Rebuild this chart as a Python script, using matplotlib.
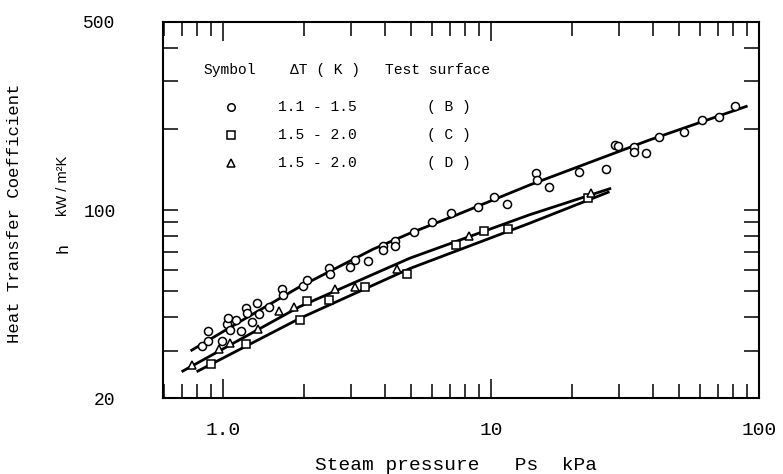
import numpy as np
import matplotlib
matplotlib.use("Agg")
import matplotlib.pyplot as plt
from matplotlib.ticker import FixedLocator, FixedFormatter, LogLocator, NullFormatter

plt.rcParams['font.family'] = ['Liberation Mono', 'DejaVu Sans Mono', 'DejaVu Sans']

# --- data (Ps in kPa, h in kW/m2K) ---
# surface B, circles
b_ps = [0.835, 0.875, 0.875, 0.991, 1.035, 1.044, 1.059, 1.112, 1.161, 1.212,
        1.222, 1.276, 1.343, 1.362, 1.480, 1.651, 1.665, 1.986, 2.063, 2.483,
        2.497, 2.984, 3.095, 3.469, 3.946, 3.946, 4.363, 4.363, 5.134, 6.006,
        7.054, 8.946, 10.24, 11.45, 14.72, 14.84, 16.38, 21.21, 26.82, 28.93,
        29.63, 33.99, 33.99, 37.90, 42.26, 52.51, 60.85, 70.47, 81.33]
b_h = [31.3, 32.7, 35.6, 32.7, 37.7, 39.8, 35.9, 39.0, 35.6, 43.2,
       41.6, 38.5, 45.3, 41.1, 43.5, 50.9, 48.4, 52.4, 55.0, 60.8,
       57.9, 61.6, 65.2, 64.8, 73.7, 71.0, 76.9, 73.5, 82.7, 90.1,
       97.2, 102.3, 112.2, 105.2, 136.8, 128.9, 121.4, 138.9, 141.6, 174.1,
       172.9, 171.4, 164.6, 162.8, 186.2, 195.2, 215.3, 222.1, 242.7]

# surface C, squares
c_ps = [0.898, 1.215, 1.931, 2.063, 2.476, 3.373, 4.836, 7.406, 9.36, 11.53, 22.95]
c_h = [26.7, 31.8, 39.0, 46.0, 46.4, 51.9, 57.9, 74.1, 83.8, 84.8, 110.5]

# surface D, triangles
d_ps = [0.768, 0.964, 1.062, 1.350, 1.613, 1.842, 2.614, 3.095, 4.449, 8.28, 23.64]
d_h = [26.5, 30.4, 32.1, 36.2, 42.3, 43.8, 50.8, 51.8, 60.6, 79.9, 115.6]

# fitted curves as drawn
b_fit_ps = [0.756, 1.154, 1.931, 3.62, 4.962, 7.41, 13.89, 38.89, 90.36]
b_fit_h = [30.0, 38.5, 51.9, 71.5, 81.9, 95.8, 123.8, 181.9, 243.3]
c_fit_ps = [0.796, 1.931, 4.962, 13.89, 27.6]
c_fit_h = [25.1, 39.6, 60.6, 89.3, 116.9]
d_fit_ps = [0.700, 1.931, 4.962, 13.89, 28.0]
d_fit_h = [25.1, 43.8, 66.2, 96.0, 120.4]

x_major = [1, 10, 100]
x_major_labels = ["1.0", "10", "100"]
y_major = [20, 100, 500]
y_major_labels = ["20", "100", "500"]

legend_rows = [("o", "1.1 - 1.5", "( B )"),
               ("s", "1.5 - 2.0", "( C )"),
               ("^", "1.5 - 2.0", "( D )")]

fig = plt.figure(figsize=(7.83, 4.74), dpi=100)
ax = fig.add_axes([0.2078, 0.1597, 0.762, 0.7945])
ax.set_xscale('log')
ax.set_yscale('log')
ax.set_xlim(0.595, 100)
ax.set_ylim(20, 500)

# fit lines
for xs, ys in [(b_fit_ps, b_fit_h), (c_fit_ps, c_fit_h), (d_fit_ps, d_fit_h)]:
    ax.plot(xs, ys, color='black', lw=2.0, solid_capstyle='butt',
            solid_joinstyle='round', zorder=2)

mk = dict(linestyle='none', mfc='white', mec='black', mew=1.1, zorder=3)
ax.plot(b_ps, b_h, marker='o', ms=5.8, **mk)
ax.plot(c_ps, c_h, marker='s', ms=5.4, **mk)
ax.plot(d_ps, d_h, marker='^', ms=6.0, **mk)

# ticks
ax.xaxis.set_major_locator(FixedLocator(x_major))
ax.xaxis.set_major_formatter(FixedFormatter(x_major_labels))
ax.xaxis.set_minor_locator(LogLocator(base=10, subs=np.arange(2, 10)))
ax.xaxis.set_minor_formatter(NullFormatter())
ax.yaxis.set_major_locator(FixedLocator(y_major))
ax.yaxis.set_major_formatter(FixedFormatter(y_major_labels))
ax.yaxis.set_minor_locator(LogLocator(base=10, subs=np.arange(2, 10)))
ax.yaxis.set_minor_formatter(NullFormatter())

ax.tick_params(which='both', direction='in', top=True, right=True, width=1.1)
ax.tick_params(axis='x', which='major', length=14, pad=17, labelsize=14)
ax.tick_params(axis='x', which='minor', length=10)
ax.tick_params(axis='y', which='both', length=11, pad=34, labelsize=13)
for sp in ax.spines.values():
    sp.set_linewidth(1.5)

# legend block drawn as text inside the axes
hdr_y = 0.872
ax.text(0.0675, hdr_y, "Symbol", transform=ax.transAxes, fontsize=10.5, va='center')
ax.text(0.2134, hdr_y, "\u0394T ( K )", transform=ax.transAxes, fontsize=10.5, va='center')
ax.text(0.3726, hdr_y, "Test surface", transform=ax.transAxes, fontsize=10.5, va='center')
for (m, rng, surf), ry in zip(legend_rows, [0.7735, 0.699, 0.6246]):
    ax.plot([0.1145], [ry], marker=m, ms=5.4, transform=ax.transAxes, clip_on=False, **mk)
    ax.text(0.1933, ry, rng, transform=ax.transAxes, fontsize=10.5, va='center')
    ax.text(0.443, ry, surf, transform=ax.transAxes, fontsize=10.5, va='center')

# axis titles
fig.text(15 / 783, 1 - 213.5 / 474, "Heat Transfer Coefficient", rotation=90,
         ha='center', va='center', fontsize=12.5)
fig.text(63 / 783, 1 - 186 / 474, "kW / m\u00b2K", rotation=90,
         ha='center', va='center', fontsize=10.5, family=['Liberation Sans', 'DejaVu Sans'])
fig.text(63 / 783, 1 - 248 / 474, "h", rotation=90,
         ha='center', va='center', fontsize=12)
fig.text(456 / 783, 1 - 465 / 474, "Steam pressure   Ps  kPa",
         ha='center', va='center', fontsize=14)

fig.savefig("out.png", dpi=100)
